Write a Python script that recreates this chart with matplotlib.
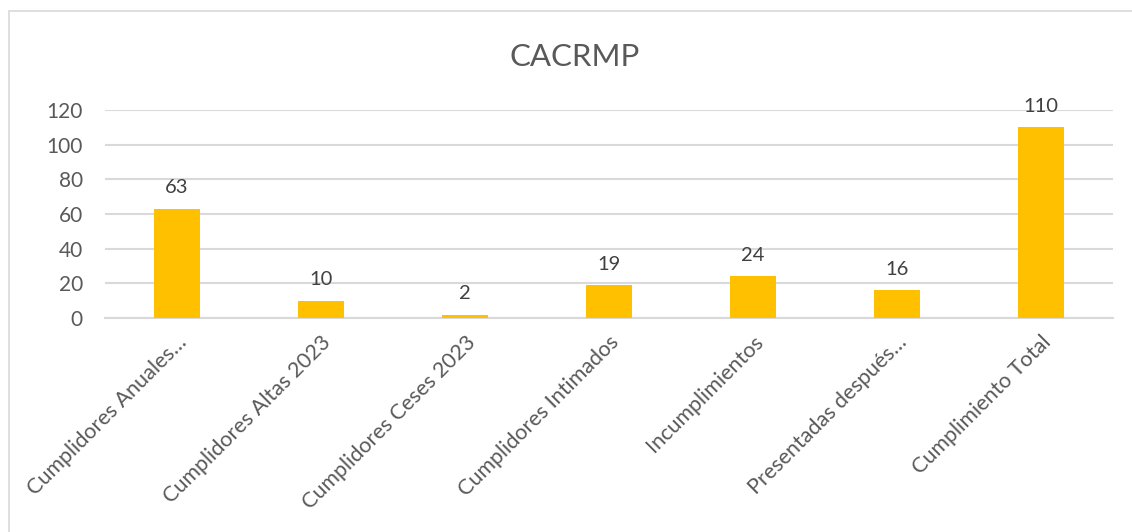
import matplotlib.pyplot as plt
from matplotlib.patches import Rectangle

categories = [
    "Cumplidores Anuales…",
    "Cumplidores Altas 2023",
    "Cumplidores Ceses 2023",
    "Cumplidores Intimados",
    "Incumplimientos",
    "Presentadas después…",
    "Cumplimiento Total",
]
values = [63, 10, 2, 19, 24, 16, 110]
y_ticks = [0, 20, 40, 60, 80, 100, 120]

BAR_COLOR = "#FFC000"
TEXT_COLOR = "#595959"
GRID_COLOR = "#D9D9D9"

plt.rcParams["font.family"] = ["Lato", "DejaVu Sans"]

fig = plt.figure(figsize=(11.32, 5.32), dpi=100)
ax = fig.add_axes([105 / 1132, 1 - 318 / 532, 1008 / 1132, 208 / 532])

x = list(range(len(categories)))
ax.bar(x, values, width=0.315, color=BAR_COLOR, zorder=3)

for xi, v in zip(x, values):
    ax.annotate(str(v), (xi, v), xytext=(0, 9), textcoords="offset points",
                ha="center", va="bottom", fontsize=14.5, color="#404040")

ax.set_xlim(-0.5, len(categories) - 0.5)
ax.set_ylim(0, 120)
ax.set_yticks(y_ticks)
ax.set_yticklabels([str(t) for t in y_ticks], fontsize=15, color=TEXT_COLOR)
ax.set_xticks(x)
ax.set_xticklabels(categories, rotation=45, ha="right", va="top",
                   rotation_mode="anchor", fontsize=15.5, color=TEXT_COLOR)
ax.tick_params(axis="both", length=0)
ax.tick_params(axis="y", pad=16)
ax.tick_params(axis="x", pad=10)

ax.grid(axis="y", color=GRID_COLOR, linewidth=1.5, zorder=0)
for side in ["top", "right", "left"]:
    ax.spines[side].set_visible(False)
ax.spines["bottom"].set_color(GRID_COLOR)
ax.spines["bottom"].set_linewidth(1.5)

fig.text(575 / 1132, 1 - 57 / 532, "CACRMP", ha="center", va="center",
         fontsize=22.5, color=TEXT_COLOR)

# chart frame (runs off the right and bottom edge)
fig.patches.append(Rectangle((9 / 1132, -0.1), 1.2, 1 - 11 / 532 + 0.1,
                             transform=fig.transFigure, fill=False,
                             edgecolor=GRID_COLOR, linewidth=1.2))

fig.savefig("out.png", dpi=100, facecolor="white")
